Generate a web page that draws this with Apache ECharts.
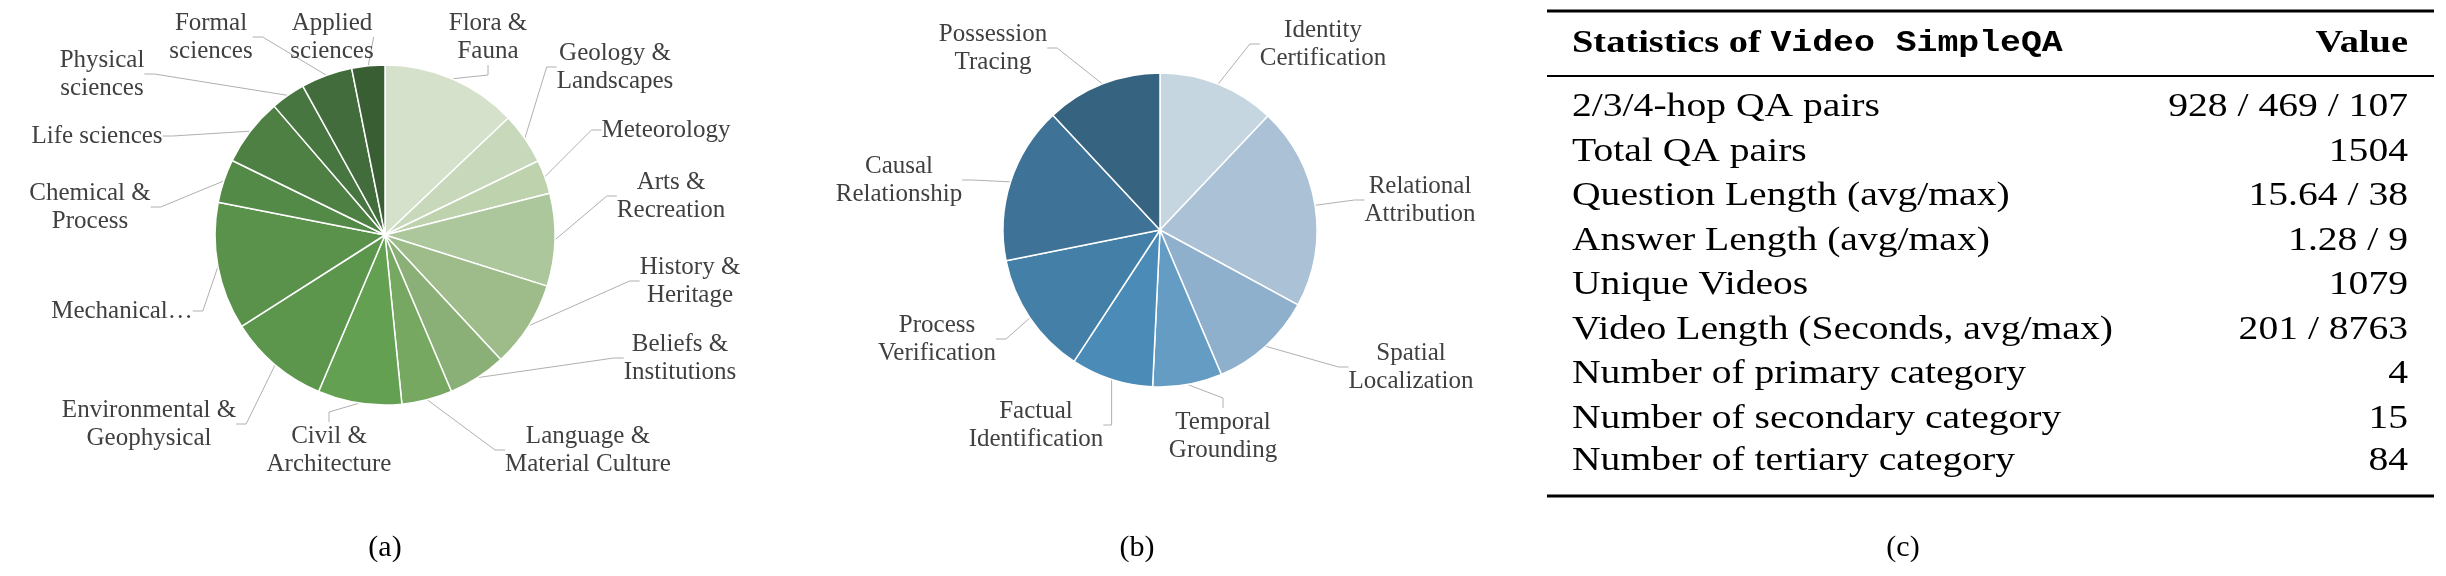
<!DOCTYPE html>
<html>
<head>
<meta charset="utf-8">
<script src="https://cdn.jsdelivr.net/npm/echarts@6/dist/echarts.min.js"></script>
<style>
  html, body { margin: 0; padding: 0; background: #fff; }
  #main { width: 2446px; height: 576px; }
</style>
</head>
<body>
<div id="main"></div>
<script>
// (a) domains, clockwise from 12 o'clock
const domainNames = ['Flora &\nFauna', 'Geology &\nLandscapes', 'Meteorology', 'Arts &\nRecreation',
  'History &\nHeritage', 'Beliefs &\nInstitutions', 'Language &\nMaterial Culture', 'Civil &\nArchitecture',
  'Environmental &\nGeophysical', 'Mechanical…', 'Chemical &\nProcess', 'Life sciences',
  'Physical\nsciences', 'Formal\nsciences', 'Applied\nsciences']
const domainValues = [46.5, 17.7, 11.6, 31.7, 29.6, 19.9, 17.3, 28.7, 34.5, 43.6, 14.9, 23.3, 11.8, 17.6, 11.3]
const domainColors = ['#d5e1cb', '#c8d9bb', '#bdd2ad', '#adc79c', '#9dbc8a', '#8bb077', '#77a862', '#64a052',
  '#5c964c', '#5a924b', '#548a47', '#4e8043', '#477640', '#426c3c', '#3a5e34']
const domainLabelPos = [[488, 37], [615, 67], [666, 130], [671, 196], [690, 281], [680, 358], [588, 450],
  [329, 450], [149, 424], [122, 311], [90, 207], [97, 136], [102, 74], [211, 37], [332, 37]]

// (b) question types
const typeNames = ['Identity\nCertification', 'Relational\nAttribution', 'Spatial\nLocalization',
  'Temporal\nGrounding', 'Factual\nIdentification', 'Process\nVerification', 'Causal\nRelationship',
  'Possession\nTracing']
const typeValues = [43.4, 75.1, 38.5, 25.7, 30.5, 45.5, 58.3, 43.0]
const typeColors = ['#c5d6e1', '#abc2d6', '#8fb0cc', '#659cc4', '#4a8bb8', '#437fa6', '#3f7297', '#36637f']
const typeLabelPos = [[1323, 44], [1420, 200], [1411, 367], [1223, 436], [1036, 425], [937, 339],
  [899, 180], [993, 48]]

// (c) statistics table
const statNames = ['2/3/4-hop QA pairs', 'Total QA pairs', 'Question Length (avg/max)', 'Answer Length (avg/max)',
  'Unique Videos', 'Video Length (Seconds, avg/max)', 'Number of primary category',
  'Number of secondary category', 'Number of tertiary category']
const statValues = ['928 / 469 / 107', '1504', '15.64 / 38', '1.28 / 9', '1079', '201 / 8763', '4', '15', '84']

const serif = '"Liberation Serif", "DejaVu Serif", serif'

function pieSeries(names, values, colors, labelPos, center, radius) {
  return {
    type: 'pie',
    center,
    radius,
    startAngle: 90,
    clockwise: true,
    animation: false,
    data: names.map((n, i) => ({ name: n, value: values[i], itemStyle: { color: colors[i] } })),
    itemStyle: { borderColor: '#fff', borderWidth: 1.5 },
    label: {
      show: true,
      position: 'outside',
      color: '#404040',
      fontFamily: serif,
      fontSize: 25,
      lineHeight: 28,
      align: 'center',
    },
    labelLine: { show: true, length: 20, length2: 10, lineStyle: { color: '#b0b0b0', width: 1 } },
    labelLayout: (p) => {
      const pos = labelPos[p.dataIndex]
      return { x: pos[0], y: pos[1], align: 'center', verticalAlign: 'middle' }
    },
    emphasis: { disabled: true },
  }
}

const tableLeft = 1547, tableRight = 2434
const textLeft = 1572, textRight = 2408
const sx = 1.2  // reference type is set wide
const rowY = [107, 152, 196, 241, 285, 330, 374, 419, 461]
const graphic = [
  { type: 'line', shape: { x1: tableLeft, y1: 11, x2: tableRight, y2: 11 }, style: { stroke: '#000', lineWidth: 3 } },
  { type: 'line', shape: { x1: tableLeft, y1: 76, x2: tableRight, y2: 76 }, style: { stroke: '#000', lineWidth: 2 } },
  { type: 'line', shape: { x1: tableLeft, y1: 496, x2: tableRight, y2: 496 }, style: { stroke: '#000', lineWidth: 3 } },
  {
    type: 'text', x: textLeft, y: 44, scaleX: sx,
    style: {
      text: '{a|Statistics of }{b|Video SimpleQA}',
      verticalAlign: 'middle',
      rich: {
        a: { fontFamily: serif, fontWeight: 'bold', fontSize: 32, fill: '#000' },
        b: { fontFamily: '"Liberation Mono", "DejaVu Sans Mono", monospace', fontWeight: 'bold', fontSize: 29, fill: '#000' },
      },
    },
  },
  { type: 'text', x: textRight, y: 44, scaleX: sx, style: { text: 'Value', align: 'right', verticalAlign: 'middle', font: 'bold 32px ' + serif, fill: '#000' } },
  { type: 'text', x: 385, y: 548, style: { text: '(a)', align: 'center', verticalAlign: 'middle', font: '30px ' + serif, fill: '#000' } },
  { type: 'text', x: 1137, y: 548, style: { text: '(b)', align: 'center', verticalAlign: 'middle', font: '30px ' + serif, fill: '#000' } },
  { type: 'text', x: 1903, y: 548, style: { text: '(c)', align: 'center', verticalAlign: 'middle', font: '30px ' + serif, fill: '#000' } },
]
statNames.forEach((n, i) => {
  graphic.push({ type: 'text', x: textLeft, y: rowY[i], scaleX: sx, style: { text: n, verticalAlign: 'middle', font: '33px ' + serif, fill: '#000' } })
  graphic.push({ type: 'text', x: textRight, y: rowY[i], scaleX: sx, style: { text: statValues[i], align: 'right', verticalAlign: 'middle', font: '33px ' + serif, fill: '#000' } })
})

const chart = echarts.init(document.getElementById('main'))
chart.setOption({
  backgroundColor: '#fff',
  animation: false,
  series: [
    pieSeries(domainNames, domainValues, domainColors, domainLabelPos, [385, 235], 170),
    pieSeries(typeNames, typeValues, typeColors, typeLabelPos, [1160, 230], 157),
  ],
  graphic,
})
</script>
</body>
</html>
